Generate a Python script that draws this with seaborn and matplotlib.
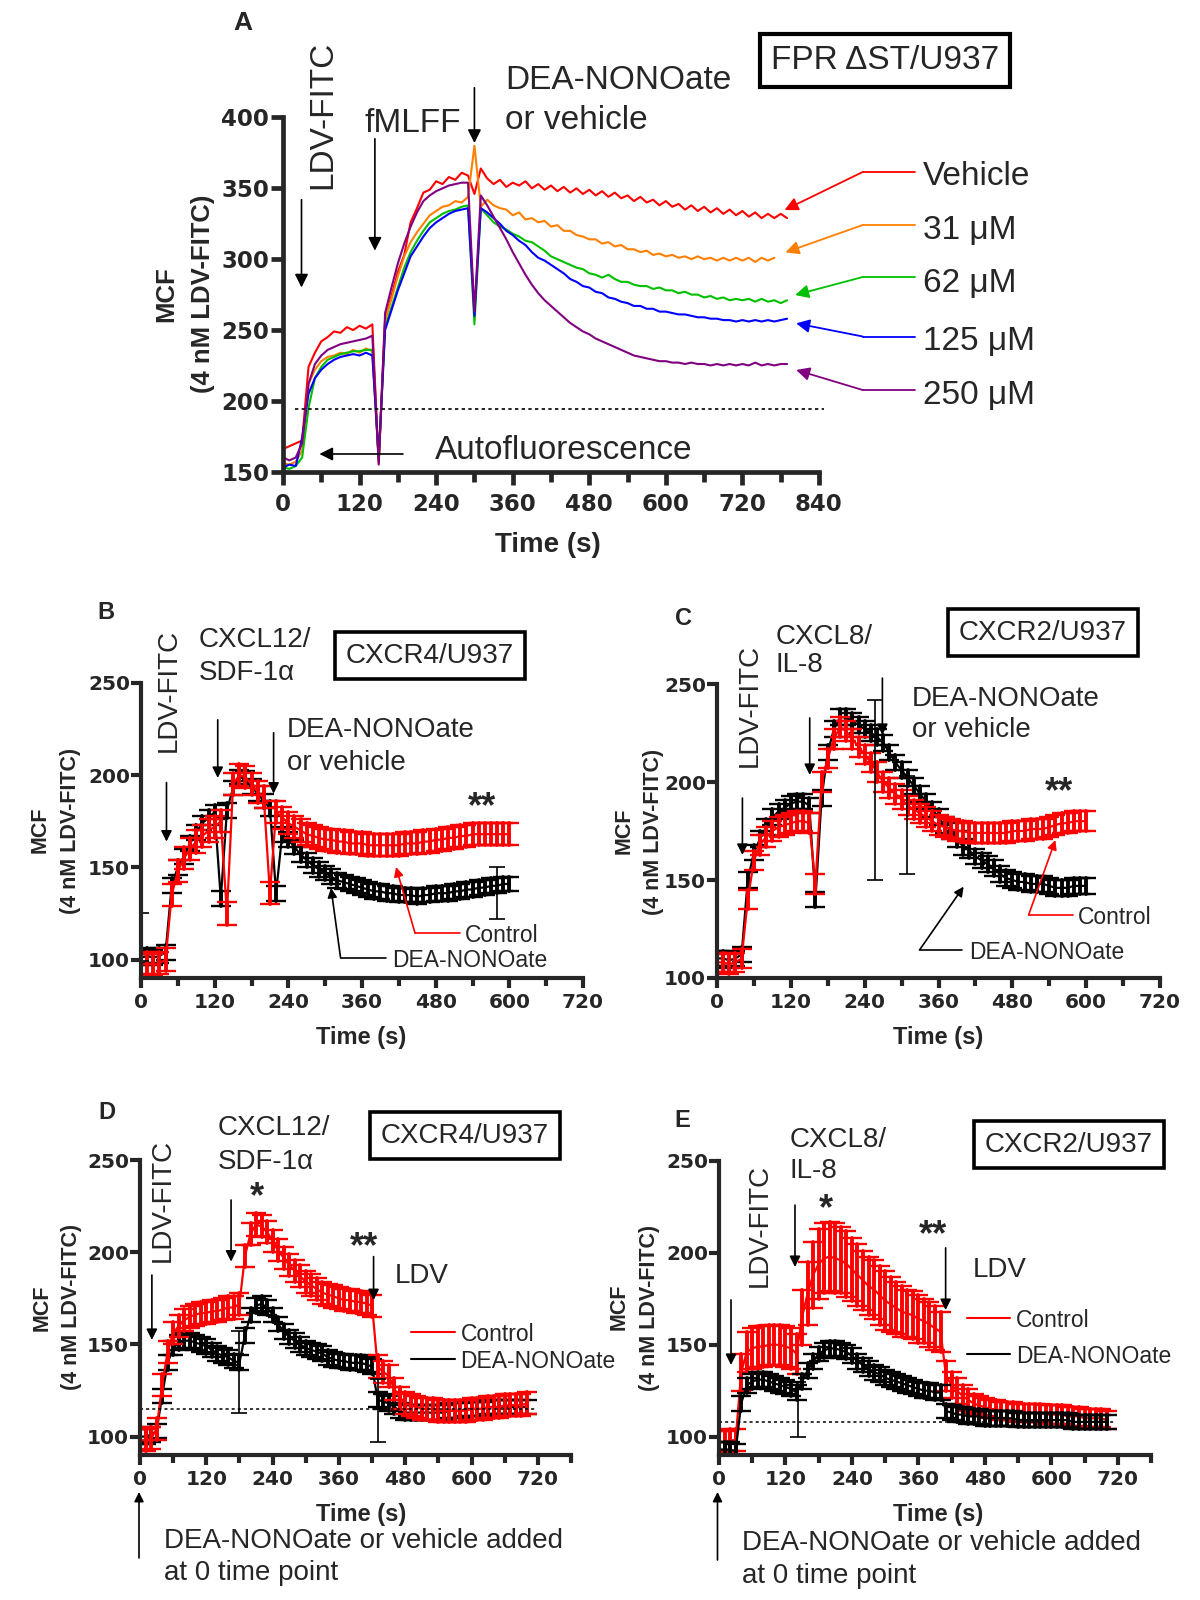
import matplotlib
matplotlib.use("Agg")
import matplotlib.pyplot as plt
from matplotlib.ticker import MultipleLocator
import numpy as np
import pandas as pd
import seaborn as sns

W, H, DPI = 1200, 1600, 100
nan = np.nan

# ---------------- panel A: FPR dST/U937, one trace per dose, every 10 s ----------------
a_time = np.arange(0, 801, 10)
a_doses = ["Vehicle", "31 \u03bcM", "62 \u03bcM", "125 \u03bcM", "250 \u03bcM"]
a_colors = ["#ff0000", "#ff7f00", "#00c000", "#0000ff", "#800080"]
a_vehicle = [166, 168, 170, 172, 224, 234, 242, 245, 249, 248, 252, 250, 253, 251, 254, 156,
             257, 274, 291, 303, 326, 336, 347, 349, 355, 353, 358, 356, 361, 359, 346,
             364, 357, 353, 356, 351, 354, 352, 355, 350, 353, 349, 352, 348, 351, 347,
             350, 346, 349, 345, 348, 344, 347, 343, 345, 341, 344, 340, 342, 338, 341,
             337, 339, 335, 338, 334, 337, 333, 336, 332, 335, 331, 334, 330, 333, 329,
             332, 329, 332, 329, nan]
a_31 = [156, 155, 157, 165, 212, 222, 228, 231, 232, 234, 233, 236, 234, 237, 235, 158,
        257, 272, 288, 302, 312, 319, 325, 331, 334, 337, 338, 341, 340, 344, 380,
        337, 342, 338, 336, 335, 331, 333, 328, 329, 326, 327, 323, 324, 320, 320,
        317, 316, 314, 314, 311, 312, 309, 310, 307, 307, 305, 306, 303, 304, 302,
        303, 301, 302, 300, 302, 300, 301, 299, 301, 299, 301, 299, 301, 298, 301,
        299, 301, nan, nan, nan]
a_62 = [153, 152, 154, 160, 195, 216, 224, 229, 231, 233, 234, 235, 235, 236, 236, 158,
        252, 266, 280, 294, 305, 313, 320, 326, 329, 332, 334, 335, 337, 338, 254,
        336, 331, 326, 323, 321, 318, 316, 313, 312, 309, 306, 302, 300, 298, 296,
        294, 293, 290, 289, 287, 289, 286, 284, 284, 282, 281, 281, 279, 280, 278,
        278, 276, 277, 275, 275, 273, 274, 272, 273, 271, 272, 271, 272, 270, 272,
        270, 271, 269, 271, nan]
a_125 = [153, 155, 154, 174, 205, 216, 222, 226, 229, 231, 232, 233, 232, 234, 232, 160,
         250, 264, 278, 290, 302, 309, 316, 322, 326, 329, 332, 334, 335, 336, 260,
         336, 333, 329, 325, 320, 317, 313, 310, 305, 301, 299, 296, 293, 290, 286,
         284, 281, 280, 277, 276, 273, 272, 270, 269, 267, 267, 265, 265, 263, 263,
         262, 261, 261, 260, 259, 259, 258, 258, 257, 257, 256, 257, 256, 257, 256,
         257, 256, 257, 258, nan]
a_250 = [160, 158, 160, 170, 212, 226, 232, 236, 238, 240, 241, 242, 243, 244, 246, 155,
         262, 280, 297, 311, 323, 333, 341, 345, 348, 350, 352, 353, 354, 354, 263,
         345, 338, 330, 322, 314, 305, 297, 289, 282, 276, 271, 267, 263, 259, 255,
         252, 249, 247, 244, 242, 240, 238, 236, 234, 232, 231, 230, 229, 228, 228,
         227, 227, 226, 227, 226, 226, 225, 226, 225, 226, 225, 226, 225, 227, 225,
         226, 225, 226, 226, nan]
a_autofluor = 194

# ---------------- panels B-E: Control vs DEA-NONOate, mean +/- error every 10 s ----------------
b_time = np.arange(0, 601, 10)
b_ctrl = [97, 98, 97, 98, 100, 135, 148, 155, 160, 164, 167, 170, 172, 175, 125, 195, 200, 199,
          195, 191, 188, 136, 180, 177, 174, 172, 170, 168, 167, 166, 165, 165, 164, 164, 163,
          163, 163, 162, 162, 162, 162, 162, 162, 163, 163, 163, 164, 164, 165, 165, 166, 166,
          167, 167, 168, 168, 168, 168, 168, 168, 168]
b_dea = [101, 102, 101, 102, 104, 140, 150, 156, 163, 169, 174, 177, 180, 133, 181, 193, 199, 198,
         194, 190, 186, 182, 136, 168, 165, 161, 157, 154, 151, 149, 147, 145, 143, 142, 141,
         140, 139, 138, 137, 137, 136, 136, 135, 135, 135, 134, 135, 135, 136, 136, 136, 137,
         137, 138, 138, 139, 139, 140, 140, 141, 141]
b_ctrl_err, b_dea_err = 6, 4
b_extra_t, b_extra_v, b_extra_e = [0, 580], [112, 136], [13, 14]

c_time = np.arange(0, 601, 10)
c_ctrl = [108, 108, 107, 108, 110, 140, 160, 168, 172, 175, 177, 178, 179, 180, 180, 179, 148, 200,
          212, 222, 228, 226, 222, 218, 214, 210, 205, 200, 197, 194, 191, 188, 186, 184, 182,
          180, 178, 177, 176, 175, 175, 174, 174, 174, 174, 174, 174, 174, 175, 175, 175, 176,
          176, 176, 177, 178, 179, 179, 180, 180, 180]
c_dea = [110, 110, 109, 110, 112, 150, 164, 171, 177, 182, 185, 187, 189, 190, 190, 188, 140, 192,
         215, 227, 233, 233, 231, 229, 227, 225, 223, 220, 215, 210, 206, 202, 198, 194, 190,
         186, 182, 178, 175, 171, 167, 165, 162, 160, 158, 156, 153, 151, 150, 149, 149, 148,
         148, 148, 147, 146, 146, 146, 147, 147, 147]
c_ctrl_err, c_dea_err = 5, 4
c_extra_t, c_extra_v, c_extra_e = [256, 308], [196, 178], [46, 25]

d_time = np.arange(0, 701, 10)
d_ctrl = [98, 98, 99, 104, 128, 146, 156, 160, 163, 165, 166, 167, 167, 168, 168, 169, 170, 170,
          172, 198, 210, 215, 214, 211, 206, 201, 197, 193, 190, 187, 184, 182, 180, 178, 177,
          176, 175, 174, 174, 173, 173, 172, 171, 138, 135, 133, 126, 121, 118, 117, 116, 115,
          115, 115, 114, 114, 114, 114, 114, 114, 115, 115, 115, 116, 116, 116, 117, 117, 117,
          117, 118]
d_dea = [100, 100, 101, 103, 122, 140, 148, 151, 152, 152, 151, 150, 149, 147, 145, 144, 143, 141,
         140, 155, 166, 171, 172, 170, 166, 161, 157, 154, 152, 150, 148, 147, 146, 145, 143,
         142, 141, 141, 140, 140, 140, 139, 138, 120, 119, 118, 116, 114, 113, 113, 113, 113,
         113, 113, 113, 113, 114, 114, 114, 115, 115, 115, 115, 116, 116, 116, 116, 116, 116,
         116, 116]
d_ctrl_err, d_dea_err = 6, 4
d_extra_t, d_extra_v, d_extra_e = [180, 430], [135, 114], [22, 17]
d_baseline = 115

e_time = np.arange(0, 701, 10)
e_ctrl = [97, 97, 98, 98, 135, 146, 148, 149, 149, 150, 150, 150, 149, 148, 145, 165, 178, 188,
          194, 197, 198, 197, 196, 194, 191, 188, 185, 182, 180, 177, 174, 172, 170, 168, 167,
          166, 164, 163, 161, 159, 157, 133, 128, 125, 122, 120, 118, 117, 116, 115, 115, 114,
          114, 114, 113, 113, 113, 113, 113, 112, 112, 112, 112, 111, 111, 111, 110, 110, 110,
          110, 109]
e_ctrl_err = [6, 6, 6, 6, 10, 11, 11, 11, 11, 11, 11, 11, 11, 11, 11, 15, 17, 18, 19, 19, 19, 19,
              18, 18, 17, 17, 16, 16, 16, 16, 16, 15, 14, 14, 13, 13, 13, 12, 12, 12, 11, 8, 7, 7,
              6, 6, 5, 5, 5, 5, 5, 5, 5, 5, 5, 5, 5, 5, 5, 5, 5, 5, 5, 5, 5, 5, 5, 5, 5, 5, 5]
e_dea = [93, 93, 93, 92, 118, 128, 130, 131, 131, 130, 129, 128, 127, 126, 124, 130, 136, 141, 145,
         147, 148, 148, 147, 146, 144, 141, 139, 137, 135, 134, 132, 131, 130, 129, 128, 127,
         126, 125, 125, 124, 124, 114, 113, 112, 112, 111, 111, 111, 110, 110, 110, 110, 110,
         110, 109, 109, 109, 109, 109, 109, 109, 109, 109, 109, 108, 108, 108, 108, 108, 108, 108]
e_dea_err = 4
e_extra_t, e_extra_v, e_extra_e = [143], [115], [15]
e_baseline = 108

PAIR_COLORS = {"Control": "#ff0000", "DEA-NONOate": "#000000"}


sns.set_style("ticks")
plt.rcParams["font.family"] = ["Liberation Sans", "DejaVu Sans"]
fig = plt.figure(figsize=(W / DPI, H / DPI), dpi=DPI)


def add_panel(l, t, r, b):
    return fig.add_axes([l / W, 1 - b / H, (r - l) / W, (b - t) / H])


def put(px, py, s, size, weight="normal", ha="center", rot=0, drop=0.1, **kw):
    # px, py: pixel position (from top-left) of the centre of the capitals
    em = size * DPI / 72
    if rot:
        px = px + drop * em
    else:
        py = py + drop * em
    fig.text(px / W, 1 - py / H, s, fontsize=size, fontweight=weight, ha=ha, va="center",
             rotation=rot, **kw)


def fig_line(x0, y0, x1, y1, color="black", lw=1.2):
    fig.add_artist(plt.Line2D([x0 / W, x1 / W], [1 - y0 / H, 1 - y1 / H],
                              transform=fig.transFigure, color=color, lw=lw))


def arrow(ax, start, end, color="black", lw=1.2, head=16, start_px=False, end_px=False):
    ax.annotate("", xy=(end[0], H - end[1]) if end_px else end,
                xycoords="figure pixels" if end_px else "data",
                xytext=(start[0], H - start[1]) if start_px else start,
                textcoords="figure pixels" if start_px else "data",
                arrowprops=dict(arrowstyle="-|>", color=color, lw=lw, mutation_scale=head,
                                shrinkA=0, shrinkB=0),
                annotation_clip=False)


def style(ax, xmax, ylim, yticks, tick_size, spine_w, tick_len, pad):
    ax.set_xlim(0, xmax)
    ax.set_ylim(*ylim)
    ax.xaxis.set_major_locator(MultipleLocator(120))
    ax.xaxis.set_minor_locator(MultipleLocator(60))
    ax.set_yticks(yticks)
    ax.set_xlabel("")
    ax.set_ylabel("")
    sns.despine(ax=ax)
    for side in ("left", "bottom"):
        ax.spines[side].set_linewidth(spine_w)
    ax.tick_params(which="major", length=tick_len, width=spine_w, labelsize=tick_size)
    ax.tick_params(axis="x", which="major", pad=pad)
    ax.tick_params(axis="y", which="major", pad=1)
    ax.tick_params(which="minor", length=tick_len * 0.8, width=spine_w)
    for lab in ax.get_xticklabels() + ax.get_yticklabels():
        lab.set_fontweight("bold")
        lab.set_fontfamily("DejaVu Sans")


def pair_frame(time, series):
    frames = []
    for name, (mean, err) in series.items():
        mean = np.asarray(mean, float)
        err = np.broadcast_to(np.asarray(err, float), mean.shape)
        frames.append(pd.DataFrame({"time": np.concatenate([time, time]),
                                    "mcf": np.concatenate([mean - err, mean + err]),
                                    "group": name}))
    return pd.concat(frames, ignore_index=True)


def draw_pair(ax, df, order, extra):
    sns.lineplot(data=df, x="time", y="mcf", hue="group", hue_order=order, palette=PAIR_COLORS,
                 estimator="mean", errorbar=lambda s: (s.min(), s.max()), err_style="bars",
                 err_kws={"capsize": 7.5, "elinewidth": 2.8, "capthick": 1.7},
                 linewidth=1.6, legend=False, ax=ax)
    ax.errorbar(extra[0], extra[1], yerr=extra[2], fmt="none", ecolor="black",
                elinewidth=1.2, capsize=6, capthick=1.2)


# ================= panel A =================
ax = add_panel(283, 117.5, 819, 471.7)
df_a = pd.DataFrame({
    "time": np.tile(a_time, len(a_doses)),
    "mcf": np.concatenate([a_vehicle, a_31, a_62, a_125, a_250]).astype(float),
    "dose": np.repeat(a_doses, len(a_time)),
})
sns.lineplot(data=df_a, x="time", y="mcf", hue="dose", hue_order=a_doses,
             palette=dict(zip(a_doses, a_colors)), errorbar=None, linewidth=1.5,
             legend=False, ax=ax)
ax.plot([19, 848], [a_autofluor, a_autofluor], ls=(0, (2, 2)), color="black", lw=1.2,
        clip_on=False)
style(ax, 840, (150, 400), range(150, 401, 50), 16.5, 3.4, 9, 6)

put(243, 20, "A", 19, weight="bold")
put(319, 115, "LDV-FITC", 24, rot=90)
arrow(ax, (29, 342), (29, 280), head=20)
put(365, 120, "fMLFF", 24, ha="left")
arrow(ax, (144, 385), (144, 306), head=20)
put(505, 77, "DEA-NONOate", 24, ha="left")
put(505, 117, "or vehicle", 24, ha="left")
arrow(ax, (300, 421), (300, 382), head=20)
put(564, 447, "Autofluorescence", 24)
arrow(ax, (188, 162.5), (57, 162.5), head=20)
put(885, 57, "FPR \u0394ST/U937", 24,
    bbox=dict(boxstyle="square,pad=0.33", fc="white", ec="black", lw=3))
put(548, 542, "Time (s)", 20, weight="bold")
put(164, 294, "MCF", 18.5, weight="bold", rot=90)
put(200, 294, "(4 nM LDV-FITC)", 18.5, weight="bold", rot=90)

a_label_y = [173, 226.7, 280, 338, 391.7]
a_knee_y = [172, 225, 277, 336.5, 390]
a_tips = [(786, 334.7), (787.4, 304.8), (802.6, 274.7), (804.2, 254.7), (804.2, 221.8)]
for name, col, ty, ky, tip in zip(a_doses, a_colors, a_label_y, a_knee_y, a_tips):
    put(922.7, ty, name, 24, ha="left")
    fig_line(915, ky, 862.7, ky, color=col, lw=1.3)
    arrow(ax, (862.7, ky), tip, color=col, lw=1.3, head=20, start_px=True)

# ================= panel B =================
ax = add_panel(141, 683, 583, 978)
draw_pair(ax, pair_frame(b_time, {"DEA-NONOate": (b_dea, b_dea_err),
                                  "Control": (b_ctrl, b_ctrl_err)}),
          ["DEA-NONOate", "Control"], (b_extra_t, b_extra_v, b_extra_e))
style(ax, 720, (90, 250), [100, 150, 200, 250], 14.5, 3.0, 7, 4)
put(106, 610, "B", 17, weight="bold")
put(166, 690, "LDV-FITC", 20, rot=90)
arrow(ax, (41.5, 196), (41.5, 164))
put(199, 637, "CXCL12/", 20, ha="left")
put(199, 670, "SDF-1\u03b1", 20, ha="left")
arrow(ax, (125, 230), (125, 198.5))
put(287, 727, "DEA-NONOate", 20, ha="left")
put(287, 760, "or vehicle", 20, ha="left")
arrow(ax, (216, 223), (216, 190))
put(430, 653, "CXCR4/U937", 20,
    bbox=dict(boxstyle="square,pad=0.38", fc="white", ec="black", lw=2.6))
put(482, 800, "**", 26, weight="bold", drop=0.2)
put(465, 933, "Control", 16.5, ha="left")
fig_line(460, 933, 415, 933, color="#ff0000")
arrow(ax, (415, 933), (415.4, 150.2), color="#ff0000", head=14, start_px=True)
put(392, 958, "DEA-NONOate", 16.5, ha="left")
fig_line(386, 958, 340.6, 958)
arrow(ax, (340.6, 958), (309.5, 138.8), head=14, start_px=True)
put(361, 1035, "Time (s)", 17, weight="bold")
put(38, 830, "MCF", 15.5, weight="bold", rot=90)
put(68, 831, "(4 nM LDV-FITC)", 15.5, weight="bold", rot=90)

# ================= panel C =================
ax = add_panel(717, 684, 1160, 978)
draw_pair(ax, pair_frame(c_time, {"DEA-NONOate": (c_dea, c_dea_err),
                                  "Control": (c_ctrl, c_ctrl_err)}),
          ["DEA-NONOate", "Control"], (c_extra_t, c_extra_v, c_extra_e))
style(ax, 720, (100, 250), [100, 150, 200, 250], 14.5, 3.0, 7, 4)
put(684, 616, "C", 17, weight="bold")
put(747, 705, "LDV-FITC", 20, rot=90)
arrow(ax, (41.3, 191.8), (41.3, 162.8))
put(776, 634, "CXCL8/", 20, ha="left")
put(776, 662, "IL-8", 20, ha="left")
arrow(ax, (150.7, 232.7), (150.7, 203.6))
put(912, 696, "DEA-NONOate", 20, ha="left")
put(912, 727, "or vehicle", 20, ha="left")
arrow(ax, (268.8, 253), (268.8, 224))
put(1043, 630, "CXCR2/U937", 20,
    bbox=dict(boxstyle="square,pad=0.38", fc="white", ec="black", lw=2.6))
put(1059, 785, "**", 26, weight="bold", drop=0.2)
put(1078, 915, "Control", 16.5, ha="left")
fig_line(1072.6, 915, 1028.6, 915, color="#ff0000")
arrow(ax, (1028.6, 915), (550, 170.4), color="#ff0000", head=14, start_px=True)
put(969, 950, "DEA-NONOate", 16.5, ha="left")
fig_line(961.6, 950, 919.5, 950)
arrow(ax, (919.5, 950), (400.8, 146.6), head=14, start_px=True)
put(938, 1035, "Time (s)", 17, weight="bold")
put(622, 831, "MCF", 15.5, weight="bold", rot=90)
put(651, 832, "(4 nM LDV-FITC)", 15.5, weight="bold", rot=90)

# ================= panel D =================
ax = add_panel(140, 1160, 571, 1455)
draw_pair(ax, pair_frame(d_time, {"DEA-NONOate": (d_dea, d_dea_err),
                                  "Control": (d_ctrl, d_ctrl_err)}),
          ["DEA-NONOate", "Control"], (d_extra_t, d_extra_v, d_extra_e))
ax.plot([0, 716], [d_baseline, d_baseline], ls=(0, (2, 2)), color="black", lw=1.1)
style(ax, 780, (90, 250), [100, 150, 200, 250], 14.5, 3.0, 7, 4)
put(107, 1110, "D", 17, weight="bold")
put(160, 1200, "LDV-FITC", 20, rot=90)
arrow(ax, (21.5, 187.6), (21.5, 152.4))
put(217.5, 1125, "CXCL12/", 20, ha="left")
put(217.5, 1159, "SDF-1\u03b1", 20, ha="left")
arrow(ax, (164.8, 228.3), (164.8, 194.9))
put(257, 1190, "*", 26, weight="bold", drop=0.22)
put(364, 1240, "**", 26, weight="bold", drop=0.22)
arrow(ax, (422.7, 197.6), (422.7, 174))
put(395, 1273, "LDV", 20, ha="left")
put(465, 1133, "CXCR4/U937", 20,
    bbox=dict(boxstyle="square,pad=0.38", fc="white", ec="black", lw=2.6))
ax.plot([490, 570], [156.7, 156.7], color="#ff0000", lw=1.5, clip_on=False)
ax.plot([490, 570], [142.1, 142.1], color="black", lw=1.5, clip_on=False)
put(460.6, 1332, "Control", 16.5, ha="left")
put(460.6, 1359, "DEA-NONOate", 16.5, ha="left")
put(361, 1512, "Time (s)", 17, weight="bold")
put(39.5, 1308, "MCF", 15.5, weight="bold", rot=90)
put(69, 1307, "(4 nM LDV-FITC)", 15.5, weight="bold", rot=90)
arrow(ax, (139, 1558), (139, 1492), head=14, start_px=True, end_px=True)
put(164, 1538, "DEA-NONOate or vehicle added", 20, ha="left")
put(164, 1570, "at 0 time point", 20, ha="left")

# ================= panel E =================
ax = add_panel(719, 1161, 1151, 1455)
draw_pair(ax, pair_frame(e_time, {"Control": (e_ctrl, e_ctrl_err),
                                  "DEA-NONOate": (e_dea, e_dea_err)}),
          ["Control", "DEA-NONOate"], (e_extra_t, e_extra_v, e_extra_e))
ax.plot([0, 714], [e_baseline, e_baseline], ls=(0, (2, 2)), color="black", lw=1.1)
style(ax, 780, (90, 250), [100, 150, 200, 250], 14.5, 3.0, 7, 4)
put(682, 1118, "E", 17, weight="bold")
put(757, 1225, "LDV-FITC", 20, rot=90)
arrow(ax, (21.7, 174.4), (21.7, 139))
put(789.4, 1137, "CXCL8/", 20, ha="left")
put(789.4, 1168, "IL-8", 20, ha="left")
arrow(ax, (137.2, 226), (137.2, 192.3))
put(826, 1202, "*", 26, weight="bold", drop=0.22)
put(933, 1228, "**", 26, weight="bold", drop=0.22)
arrow(ax, (409.2, 202.7), (409.2, 168.9))
put(973, 1267, "LDV", 20, ha="left")
put(1069, 1142, "CXCR2/U937", 20,
    bbox=dict(boxstyle="square,pad=0.38", fc="white", ec="black", lw=2.6))
ax.plot([448, 525], [164.6, 164.6], color="#ff0000", lw=1.5, clip_on=False)
ax.plot([448, 525], [145, 145], color="black", lw=1.5, clip_on=False)
put(1016, 1318, "Control", 16.5, ha="left")
put(1016, 1354, "DEA-NONOate", 16.5, ha="left")
put(938, 1512, "Time (s)", 17, weight="bold")
put(617, 1307, "MCF", 15.5, weight="bold", rot=90)
put(647, 1308, "(4 nM LDV-FITC)", 15.5, weight="bold", rot=90)
arrow(ax, (717.5, 1560), (717.5, 1492), head=14, start_px=True, end_px=True)
put(741.6, 1540, "DEA-NONOate or vehicle added", 20, ha="left")
put(741.6, 1573, "at 0 time point", 20, ha="left")

fig.savefig("out.png", dpi=DPI)
